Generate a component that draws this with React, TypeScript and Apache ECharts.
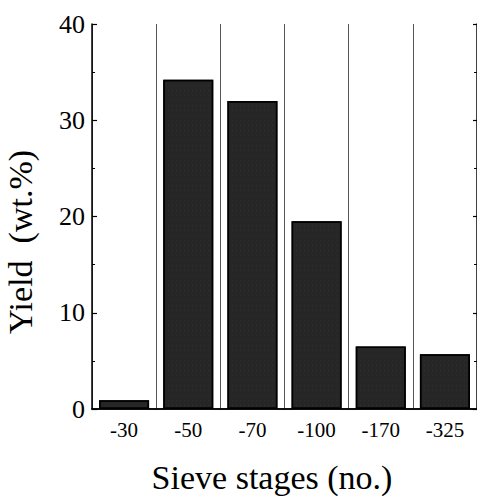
import React, { useEffect, useRef } from "react";
import * as echarts from "echarts";

const categories = ["-30", "-50", "-70", "-100", "-170", "-325"];
const yieldValues = [0.9, 34.2, 32.0, 19.5, 6.5, 5.7];
const yTicks = [0, 10, 20, 30, 40];

const FONT = "'Liberation Serif', 'DejaVu Serif', serif";

export default function App() {
  const ref = useRef<HTMLDivElement>(null);
  useEffect(() => {
    if (!ref.current) return;
    const chart = echarts.init(ref.current, null, { renderer: "svg" });
    const yMin = yTicks[0];
    const yMax = yTicks[yTicks.length - 1];
    chart.setOption({
      animation: false,
      backgroundColor: "#ffffff",
      grid: { left: 92, top: 24, width: 385, height: 385, containLabel: false },
      xAxis: [
        {
          type: "category",
          data: categories,
          position: "bottom",
          axisLine: { show: true, lineStyle: { color: "#000", width: 1.5 } },
          axisTick: { show: false },
          splitLine: { show: true, lineStyle: { color: "#555", width: 1 } },
          axisLabel: { color: "#000", fontFamily: FONT, fontSize: 21, margin: 10 },
        },
        {
          type: "category",
          data: categories,
          position: "top",
          axisLine: { show: true, lineStyle: { color: "#000", width: 1.5 } },
          axisTick: { show: false },
          axisLabel: { show: false },
          splitLine: { show: false },
        },
      ],
      yAxis: [
        {
          type: "value",
          min: yMin,
          max: yMax,
          interval: 10,
          position: "left",
          axisLine: { show: true, lineStyle: { color: "#000", width: 1.5 } },
          axisTick: { show: true, inside: true, length: 5, lineStyle: { color: "#000", width: 1.2 } },
          minorTick: { show: true, splitNumber: 2, length: 3, lineStyle: { color: "#000", width: 1 } },
          splitLine: { show: false },
          axisLabel: { color: "#000", fontFamily: FONT, fontSize: 26, margin: 7 },
        },
        {
          type: "value",
          min: yMin,
          max: yMax,
          interval: 10,
          position: "right",
          axisLine: { show: true, lineStyle: { color: "#000", width: 1.5 } },
          axisTick: { show: true, inside: true, length: 4, lineStyle: { color: "#000", width: 1.2 } },
          minorTick: { show: true, splitNumber: 2, length: 3, lineStyle: { color: "#000", width: 1 } },
          splitLine: { show: false },
          axisLabel: { show: false },
        },
      ],
      series: [
        {
          type: "bar",
          data: yieldValues,
          xAxisIndex: 0,
          yAxisIndex: 0,
          barWidth: 50,
          itemStyle: {
            color: "#262626",
            borderColor: "#000",
            borderWidth: 1.5,
            decal: {
              symbol: "rect",
              symbolSize: 0.35,
              color: "rgba(255,255,255,0.22)",
              dashArrayX: [1, 3],
              dashArrayY: [1, 4],
              rotation: 0,
            },
          },
        },
      ],
      graphic: [
        {
          type: "text",
          x: 272,
          y: 477,
          style: {
            text: "Sieve stages (no.)",
            fontFamily: FONT,
            fontSize: 34,
            fill: "#000",
            align: "center",
            verticalAlign: "middle",
          },
        },
        {
          type: "text",
          x: 20,
          y: 242,
          rotation: Math.PI / 2,
          style: {
            text: "Yield\u00a0 (wt.%)",
            fontFamily: FONT,
            fontSize: 34,
            fill: "#000",
            align: "center",
            verticalAlign: "middle",
          },
        },
      ],
    });
    return () => chart.dispose();
  }, []);
  return <div ref={ref} style={{ position: "absolute", left: 0, top: 0, width: 477, height: 497 }} />;
}
